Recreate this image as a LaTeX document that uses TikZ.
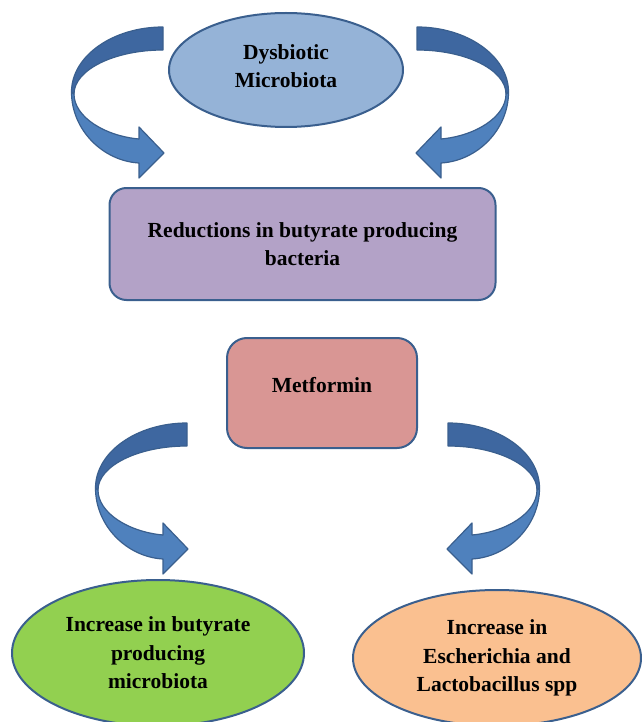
\documentclass[tikz,border=0pt]{standalone}
\usepackage{fontspec}
\setmainfont{Liberation Serif}
\usepackage{tikz}
\usetikzlibrary{shapes.geometric}
\usepackage{xcolor}
\definecolor{edgeblue}{HTML}{3A5F8E}
\definecolor{dysblue}{HTML}{95B3D7}
\definecolor{reducepurple}{HTML}{B3A2C7}
\definecolor{metred}{HTML}{D99694}
\definecolor{butgreen}{HTML}{92D050}
\definecolor{eschorange}{HTML}{FAC090}
\definecolor{bandback}{HTML}{3E67A0}
\definecolor{bandfront}{HTML}{4F81BD}

\tikzset{
  oval/.style={ellipse,draw=edgeblue,line width=2pt,align=center,inner sep=0pt},
  card/.style={rectangle,draw=edgeblue,line width=2pt,align=center,inner sep=0pt},
  bentarrow/.pic={
    \draw[edgeblue,line width=1.2pt,fill=bandback] (0,0) .. controls (-50,0) and (-91.5,29) .. (-91.5,65)
      -- (-89,67) .. controls (-89,43) and (-49,23) .. (0,23) -- cycle;
    \draw[edgeblue,line width=1.2pt,fill=bandfront] (-91.5,65) .. controls (-91.5,103) and (-60,134) .. (-24,136)
      -- (-24,151) -- (1,126) -- (-24,100) -- (-24,112)
      .. controls (-58,109) and (-89,90) .. (-89,67) -- cycle;
  }
}

\begin{document}
\begin{tikzpicture}[x=1pt,y=-1pt,line join=round,font=\fontsize{21.5}{28.5}\selectfont\bfseries]
\useasboundingbox (0,0) rectangle (641,722);
% curved block arrows
\pic at (163,27) {bentarrow};
\pic[xscale=-1] at (417,27) {bentarrow};
\pic at (187,423) {bentarrow};
\pic[xscale=-1] at (448,423) {bentarrow};
% boxes
\node[oval,fill=dysblue,minimum width=234pt,minimum height=114pt,text depth=8pt] (dysbiota) at (286,70) {Dysbiotic\\Microbiota};
\node[card,fill=reducepurple,minimum width=386pt,minimum height=112pt,rounded corners=17pt] (reduction) at (302.5,244) {Reductions in butyrate producing\\bacteria};
\node[card,fill=metred,minimum width=190pt,minimum height=110pt,rounded corners=20pt,text depth=16pt] (metformin) at (322,393) {Metformin};
\node[oval,fill=butgreen,minimum width=292pt,minimum height=146pt] (butyrate) at (158,653) {Increase in butyrate\\producing\\microbiota};
\node[oval,fill=eschorange,minimum width=288pt,minimum height=136pt] (escherichia) at (497,658) {Increase in\\Escherichia and\\Lactobacillus spp};
\end{tikzpicture}
\end{document}
